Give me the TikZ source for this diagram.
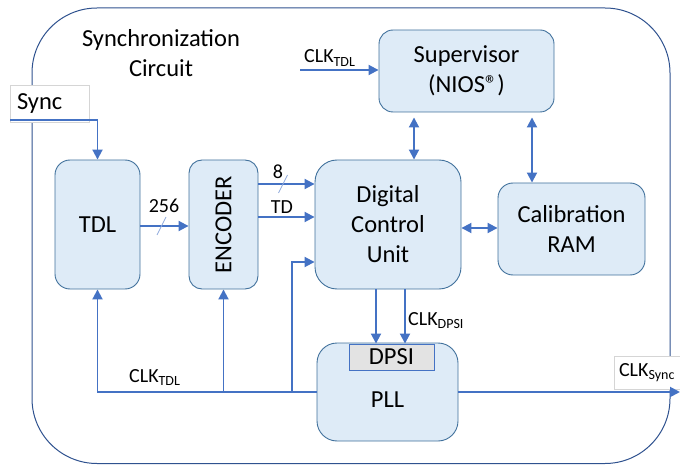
\documentclass[tikz,border=0pt]{standalone}
\usepackage{fontspec}
\setmainfont{Carlito}
\usepackage{xcolor}
\usepackage{tikz}
\usetikzlibrary{arrows.meta}
\definecolor{boxfill}{HTML}{DEEBF7}
\definecolor{boxline}{HTML}{41719C}
\definecolor{wire}{HTML}{4472C4}
\definecolor{frameline}{HTML}{2F528F}
\definecolor{slashline}{HTML}{8FAADC}
\definecolor{dpsifill}{HTML}{E3E3E3}
\definecolor{tagline}{HTML}{D5D5D5}

\begin{document}
\begin{tikzpicture}[x=1pt,y=-1pt,
  every node/.style={font=\fontsize{24.5}{30}\selectfont},
  blk/.style={draw=boxline,fill=boxfill,line width=0.9pt,align=center,inner sep=0pt},
  wr/.style={draw=wire,line width=1.9pt},
  arr/.style={wr,-{Triangle[length=10pt,width=10pt]}},
  dbl/.style={wr,{Triangle[length=10pt,width=10pt]}-{Triangle[length=10pt,width=10pt]}},
  tag/.style={draw=tagline,fill=white,line width=0.8pt,inner sep=0pt},
  lbl/.style={font=\fontsize{20}{24}\selectfont,inner sep=0pt},
  bus/.style={draw=slashline,line width=0.8pt}]
\useasboundingbox (0,0) rectangle (680,465);
\draw[frameline,line width=1pt,rounded corners=65pt] (32,8) rectangle (670,463.5);
\node[align=center] (title) at (161,53) {Synchronization\\Circuit};
  \node[tag,minimum width=79pt,minimum height=37pt,text width=65pt,align=left] (sync) at (49.5,103.5) {Sync};
  \node[tag,lbl,minimum width=66pt,minimum height=33pt] (synctag) at (647,372.5) {CLK\textsubscript{Sync}};
\node[blk,minimum width=85pt,minimum height=129pt,rounded corners=15pt] (tdl) at (97.5,224.5) {TDL};
\node[blk,minimum width=69pt,minimum height=129pt,rounded corners=13pt] (enc) at (223.5,224.5) {\rotatebox{90}{ENCODER}};
\node[blk,minimum width=146pt,minimum height=129pt,rounded corners=22pt] (dcu) at (388,224.5) {Digital\\Control\\Unit};
\node[blk,minimum width=175pt,minimum height=82pt,rounded corners=14pt] (sup) at (466.5,71) {Supervisor\\(NIOS®)};
\node[blk,minimum width=147pt,minimum height=92pt,rounded corners=15pt] (ram) at (571.5,229) {Calibration\\RAM};
\node[blk,minimum width=141pt,minimum height=98pt,rounded corners=20pt] (pll) at (387.5,392) {\\PLL};
  \node[draw=wire,fill=dpsifill,line width=0.9pt,minimum width=85pt,minimum height=26pt,inner sep=0pt] (dpsi) at (391.5,357) {DPSI};
\coordinate (syncin) at (10,120);
\draw[arr] (syncin) -| (tdl.north);
\draw[arr] (tdl.east |- 0,226) -- (enc.west |- 0,226);
  \draw[bus] (161.5,226) +(-4.5,9) -- +(4.5,-9);
  \node[lbl] (w256) at (164,206) {256};
\draw[arr] (enc.east |- 0,184) -- (dcu.west |- 0,184);
  \draw[bus] (283,184) +(-4.5,9) -- +(4.5,-9);
  \node[lbl] (w8) at (278,172) {8};
\draw[arr] (enc.east |- 0,217) -- (dcu.west |- 0,217);
  \node[lbl] (wtd) at (282,207) {TD};
\coordinate (clkin) at (300,70);
\draw[arr] (clkin) -- (clkin -| sup.west);
  \node[lbl,anchor=base west] (clktop) at (304,63) {CLK\textsubscript{TDL}};
\draw[dbl,shorten <=5pt] (sup.south -| 414,0) -- (dcu.north -| 414,0);
\draw[dbl,shorten <=5pt] (sup.south -| 532,0) -- (ram.north -| 532,0);
\draw[dbl] (dcu.east |- 0,228) -- (ram.west |- 0,228);
\draw[arr] (dcu.south -| 376,0) -- (dpsi.north -| 376,0);
\draw[arr] (dcu.south -| 405,0) -- (dpsi.north -| 405,0);
  \node[lbl,anchor=base west] (clkdpsi) at (408,325) {CLK\textsubscript{DPSI}};
\draw[arr] (pll.west) -| (tdl.south);
\draw[arr] (enc.south |- pll.west) -- (enc.south);
\draw[arr] (pll.west -| 292,0) |- (dcu.west |- 0,262);
  \node[lbl,anchor=base west] (clkbot) at (129,382) {CLK\textsubscript{TDL}};
\coordinate (syncout) at (680,392);
\draw[arr] (pll.east) -- (syncout);
\end{tikzpicture}
\end{document}
